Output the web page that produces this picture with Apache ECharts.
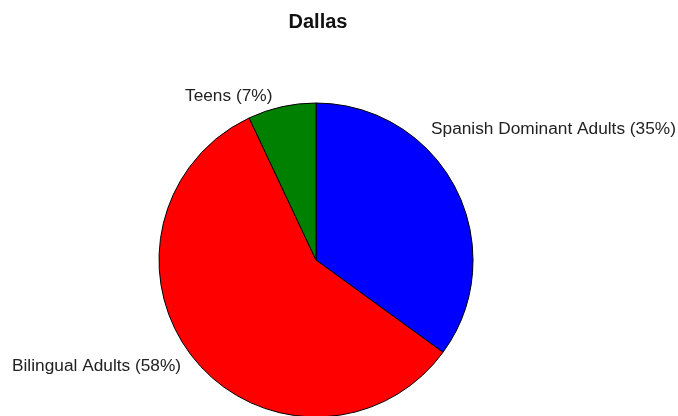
<!DOCTYPE html>
<html>
<head>
<meta charset="utf-8">
<title>Dallas</title>
<script src="https://cdn.jsdelivr.net/npm/echarts@6/dist/echarts.min.js"></script>
<style>
  html, body { margin: 0; padding: 0; background: #ffffff; }
  #chart { width: 678px; height: 416px; }
</style>
</head>
<body>
<div id="chart"></div>
<script>
// Audience segments and their shares (percent)
const categories = ['Spanish Dominant Adults', 'Bilingual Adults', 'Teens'];
const shares = [35, 58, 7];
const sliceColors = ['#0000ff', '#ff0000', '#008000'];

// Where each label sits, in the same order as the categories: [x, y]
const labelSpots = [
  [431, 129],
  [12, 366],
  [185, 96]
];

const chart = echarts.init(document.getElementById('chart'), null, { renderer: 'canvas' });

chart.setOption({
  animation: false,
  backgroundColor: '#ffffff',
  title: {
    text: 'Dallas',
    left: 313,
    top: 7,
    textAlign: 'center',
    textStyle: {
      fontFamily: 'Liberation Sans, Arial, sans-serif',
      fontSize: 20,
      fontWeight: 'bold',
      color: '#111'
    }
  },
  series: [{
    type: 'pie',
    center: [316, 260],
    radius: 157,
    startAngle: 90,
    clockwise: true,
    data: categories.map((name, i) => ({
      name: name,
      value: shares[i],
      itemStyle: { color: sliceColors[i] }
    })),
    itemStyle: { borderColor: '#000', borderWidth: 1 },
    emphasis: { disabled: true },
    label: {
      show: true,
      position: 'inside',
      overflow: 'none',
      formatter: p => p.name + ' (' + p.value + '%)',
      fontFamily: 'Liberation Sans, Arial, sans-serif',
      fontSize: 17.3,
      color: '#222'
    },
    labelLine: { show: false },
    labelLayout: params => {
      const s = labelSpots[params.dataIndex];
      return { x: s[0], y: s[1], align: 'left', verticalAlign: 'middle', hideOverlap: false };
    }
  }]
});
</script>
</body>
</html>
